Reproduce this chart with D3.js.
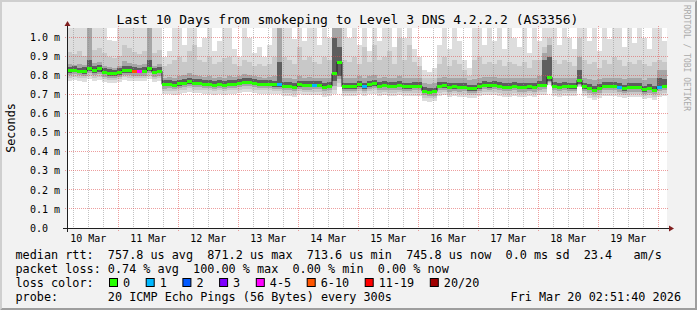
<!DOCTYPE html>
<html><head><meta charset="utf-8">
<script src="https://cdn.jsdelivr.net/npm/d3@7"></script>
<style>
html,body{margin:0;padding:0;background:#f2f2f2;}
svg{display:block;}
text{font-family:"DejaVu Sans Mono",monospace;white-space:pre;}
</style></head><body>
<svg id="c" width="697" height="310"></svg>
<script>
// ---------------- data ----------------
const title = "Last 10 Days from smokeping to Level 3 DNS 4.2.2.2 (AS3356)";
const yLabel = "Seconds";
const watermark = "RRDTOOL / TOBI OETIKER";
const yTickValues = [0.0,0.1,0.2,0.3,0.4,0.5,0.6,0.7,0.8,0.9,1.0];
const yTickLabels = ["0.0","0.1 m","0.2 m","0.3 m","0.4 m","0.5 m","0.6 m","0.7 m","0.8 m","0.9 m","1.0 m"];
const xTickLabels = ["10 Mar","11 Mar","12 Mar","13 Mar","14 Mar","15 Mar","16 Mar","17 Mar","18 Mar","19 Mar"];

// 2-hour columns, values in microseconds
const median = [
825,829,823,821,839,826,839,818,813,813,
818,829,826,823,823,823,839,818,823,754,
754,750,757,761,769,761,761,756,756,750,
756,750,756,756,761,766,766,761,756,756,
756,752,752,744,744,740,752,749,749,750,
750,740,744,811,871,742,742,742,752,742,
752,758,744,749,744,744,749,742,742,745,
745,719,714,717,744,747,738,742,738,740,
731,731,742,750,747,750,744,740,740,745,
738,738,742,738,749,750,792,744,740,744,
742,742,776,742,733,724,733,745,745,744,
738,731,738,738,738,726,733,724,740,745];
// loss class index per column (0 = no loss)
const lossClass = [
0,0,0,0,0,0,0,0,0,0, 0,0,0,5,4,0,0,0,0,0,
0,0,0,0,0,0,0,0,0,0, 0,0,0,0,0,0,0,0,0,0,
0,0,1,0,0,0,0,0,0,1, 0,0,0,0,0,0,0,0,0,1,
0,0,0,0,0,0,0,0,0,0, 0,0,0,0,0,0,0,0,0,0,
0,0,0,0,0,0,0,0,0,0, 0,0,0,0,0,0,0,0,0,0,
0,0,0,0,0,0,0,0,0,0, 1,0,0,0,0,0,0,0,1,0];
// smoke envelopes (outer -> inner)
const hi1 = [
1050,1050,1050,1050,1050,1050,1050,1050,985,980,
1050,1050,1050,1050,1050,1050,1050,1050,1050,900,
930,1050,1050,960,1050,1050,950,1000,1050,930,
980,1050,1050,940,900,1050,1000,920,950,900,
960,1050,1050,1050,1050,990,1050,980,1050,1050,
960,1050,1000,1050,1050,1050,1000,1050,960,1050,
930,1050,980,1050,1050,950,1050,1000,1050,940,
900,830,820,840,960,1050,940,1050,980,880,
840,1050,1050,960,1050,980,1050,940,1050,1000,
950,1050,920,1050,980,1050,1050,1050,960,1050,
1000,940,1050,1050,980,1050,930,1050,990,1050,
1050,950,1050,970,1050,1000,940,1050,1050,980];
const hi2 = [
925,915,930,905,1050,935,945,920,900,895,
905,960,945,925,915,930,1050,920,935,850,
860,880,900,870,930,960,880,870,900,860,
870,890,900,860,850,880,870,850,860,850,
860,900,1050,900,880,860,950,880,900,870,
860,900,880,1050,1050,880,870,900,860,950,
870,960,880,900,930,860,1000,880,960,870,
850,790,785,790,860,900,850,880,860,830,
800,880,900,860,870,860,880,850,870,860,
850,870,840,880,880,950,1000,880,860,880,
870,850,1000,880,860,870,840,880,860,900,
880,850,870,860,880,860,850,870,880,870];
const hi3 = [
860,855,862,858,1050,865,870,852,845,842,
850,875,868,860,855,860,1050,852,862,790,
795,790,800,805,815,805,800,795,800,790,
795,790,800,795,800,810,805,800,795,790,
795,800,1050,790,785,780,800,790,795,790,
790,785,790,1050,1050,790,785,790,800,790,
800,805,790,795,790,790,800,790,785,790,
790,760,755,760,790,795,785,790,785,785,
775,780,790,795,795,795,790,785,785,790,
785,785,790,785,800,920,960,790,785,790,
790,785,900,790,780,775,780,790,790,790,
785,780,785,785,785,775,785,790,830,830];
const hi4 = [
845,848,842,845,880,848,855,840,835,832,
838,850,848,845,842,845,880,838,845,775,
775,772,778,782,790,782,782,777,777,772,
777,772,777,777,782,787,787,782,777,777,
777,773,870,765,765,762,773,770,770,772,
772,762,765,1000,950,763,763,763,773,763,
773,778,765,770,765,765,770,763,763,766,
766,738,733,736,765,768,759,763,759,761,
752,752,763,771,768,771,765,761,761,766,
759,759,763,759,770,880,900,765,761,765,
763,763,830,763,754,745,754,766,766,765,
759,752,759,759,759,747,754,745,790,780];
const lo4 = [
815,818,813,810,825,815,820,806,800,800,
805,815,813,812,812,812,825,806,812,744,
744,740,747,751,758,751,751,746,746,740,
746,740,746,746,751,756,756,751,746,746,
746,742,742,734,734,730,742,739,739,740,
740,730,734,770,800,732,732,732,742,732,
742,748,734,739,734,734,739,732,732,735,
735,709,704,707,734,737,728,732,728,730,
721,721,732,740,737,740,734,730,730,735,
728,728,732,728,739,740,770,734,730,734,
732,732,755,732,723,714,723,735,735,734,
728,721,728,728,728,716,723,714,730,735];
const lo3 = [
803,807,801,798,812,803,808,795,790,790,
795,805,802,800,800,800,812,795,800,732,
733,729,735,739,746,739,739,734,734,729,
734,729,734,734,739,744,744,739,734,734,
734,730,730,722,722,718,730,727,727,728,
728,718,722,745,780,720,720,720,730,720,
730,735,722,727,722,722,727,720,720,723,
723,697,692,695,722,725,716,720,716,718,
709,709,720,728,725,728,722,718,718,723,
716,716,720,716,727,728,765,722,718,722,
720,720,750,720,711,702,711,723,723,722,
716,709,716,716,716,704,711,702,718,723];
const lo2 = [
790,794,788,785,800,790,795,783,778,778,
783,792,790,788,788,788,800,783,788,720,
721,717,723,727,733,727,727,722,722,717,
722,717,722,722,727,732,732,727,722,722,
722,718,718,710,710,706,718,715,715,716,
716,706,710,725,760,708,708,708,718,708,
718,723,710,715,710,710,715,708,708,711,
711,685,680,683,710,713,704,708,704,706,
697,697,708,716,713,716,710,706,706,711,
704,704,708,704,715,716,760,710,706,710,
708,708,745,708,699,690,699,711,711,710,
704,697,704,704,704,692,699,690,706,711];
const lo1 = [
772,776,770,768,782,772,777,766,762,762,
766,775,772,770,770,770,782,766,770,703,
704,700,706,710,716,710,710,705,705,700,
705,700,705,705,710,715,715,710,705,705,
705,701,701,693,693,689,701,698,698,699,
699,689,693,705,740,691,691,691,701,691,
701,706,693,698,693,693,698,691,691,694,
694,668,663,666,693,696,687,691,687,689,
680,680,691,699,696,699,693,689,689,694,
687,687,691,687,698,699,750,693,689,693,
691,691,740,691,682,673,682,694,694,693,
687,680,687,687,687,675,682,673,689,694];

const lossLabels = ["0","1","2","3","4-5","6-10","11-19","20/20"];
const lossColors = ["#26ff00","#00b8ff","#0059ff","#7e00ff","#ff00ff","#ff5500","#ff0000","#a00000"];
const legendRow1 = "median rtt:  757.8 us avg  871.2 us max  713.6 us min  745.8 us now  0.0 ms sd  23.4   am/s";
const legendRow2 = "packet loss: 0.74 % avg  100.00 % max  0.00 % min  0.00 % now";
const legendRow3 = "loss color:";
const legendRow4 = "probe:       20 ICMP Echo Pings (56 Bytes) every 300s";
const stamp = "Fri Mar 20 02:51:40 2026";

// ---------------- drawing ----------------
const W = 697, H = 310;
const X0 = 67, X1 = 667, Y0 = 228, Y1 = 28;
const svg = d3.select("#c");
const tStart = Date.UTC(2026, 2, 10, 3, 29);
const tEnd = Date.UTC(2026, 2, 20, 3, 29);
const STEP = 2 * 3600 * 1000;
const N = median.length;
const x = d3.scaleUtc().domain([tStart, tEnd]).range([X0, X1]);
const y = d3.scaleLinear().domain([0, 1.05]).range([Y0, Y1]).clamp(true);
const tc = i => tStart + i * STEP;
const snap = v => Math.floor(v) + 0.5;

// background & 3d border
svg.append("rect").attr("width", W).attr("height", H).attr("fill", "#f2f2f2");
svg.append("polygon").attr("points", `0,${H} 2,${H-2} 2,2 ${W-2},2 ${W},0 0,0`).attr("fill", "#cfcfcf");
svg.append("polygon").attr("points", `2,${H-2} ${W-2},${H-2} ${W-2},2 ${W},0 ${W},${H} 0,${H}`).attr("fill", "#9e9e9e");

// canvas
svg.append("rect").attr("x", X0).attr("y", Y1).attr("width", X1 - X0).attr("height", Y0 - Y1).attr("fill", "#ffffff");

// smoke
const bands = [
  [lo1, hi1, "#dddddd"],
  [lo2, hi2, "#c8c8c8"],
  [lo3, hi3, "#a6a6a6"],
  [lo4, hi4, "#5e5e5e"]
];
bands.forEach(([lo, hi, col]) => {
  svg.append("g").selectAll("rect").data(d3.range(N)).join("rect")
    .attr("x", i => x(tc(i)))
    .attr("width", i => x(tc(i + 1)) - x(tc(i)))
    .attr("y", i => y(hi[i] / 1000))
    .attr("height", i => y(lo[i] / 1000) - y(hi[i] / 1000))
    .attr("fill", col)
    .attr("shape-rendering", "crispEdges");
});

// grid
const g = svg.append("g");
const minorTimes = d3.utcHour.every(6).range(tStart, tEnd).filter(d => d.getUTCHours() !== 0);
const majorTimes = d3.utcDay.range(tStart, tEnd);
g.selectAll(".mi").data(minorTimes).join("line")
  .attr("x1", d => snap(x(d))).attr("x2", d => snap(x(d)))
  .attr("y1", Y0 + 1).attr("y2", Y1 - 1)
  .attr("stroke", "rgba(143,143,143,0.55)").attr("stroke-dasharray", "1,1");
g.selectAll(".ma").data(majorTimes).join("line")
  .attr("x1", d => snap(x(d))).attr("x2", d => snap(x(d)))
  .attr("y1", Y0 + 3).attr("y2", Y1 - 2)
  .attr("stroke", "rgba(222,79,79,0.55)").attr("stroke-dasharray", "1,1");
g.selectAll(".hy").data(yTickValues.filter(v => v > 0)).join("line")
  .attr("x1", X0 - 2).attr("x2", X1 + 2)
  .attr("y1", d => snap(y(d))).attr("y2", d => snap(y(d)))
  .attr("stroke", "rgba(222,79,79,0.55)").attr("stroke-dasharray", "1,1");

// median step line
const pts = d3.range(N).map(i => [tc(i), median[i]]).concat([[tc(N), median[N - 1]]]);
svg.append("path")
  .attr("d", d3.line().x(d => x(d[0])).y(d => y(d[1] / 1000)).curve(d3.curveStepAfter)(pts))
  .attr("fill", "none").attr("stroke", "#202020").attr("stroke-width", 1);
// loss-coloured median marks
svg.append("g").selectAll("rect").data(d3.range(N)).join("rect")
  .attr("x", i => x(tc(i)))
  .attr("width", i => x(tc(i + 1)) - x(tc(i)))
  .attr("y", i => y(median[i] / 1000) - 1.5)
  .attr("height", 3)
  .attr("fill", i => lossColors[lossClass[i]])
  .attr("shape-rendering", "crispEdges");

// axes
svg.append("line").attr("x1", X0 - 4).attr("x2", X1 + 4).attr("y1", Y0 + 0.5).attr("y2", Y0 + 0.5).attr("stroke", "#1f1f1f");
svg.append("line").attr("x1", X0 + 0.5).attr("x2", X0 + 0.5).attr("y1", Y0 + 4).attr("y2", Y1 - 4).attr("stroke", "#1f1f1f");
svg.append("polygon").attr("points", `${X1+2},${Y0-3+0.5} ${X1+2},${Y0+3+0.5} ${X1+7},${Y0+0.5}`).attr("fill", "#801f1f");
svg.append("polygon").attr("points", `${X0-3+0.5},${Y1-2} ${X0+3+0.5},${Y1-2} ${X0+0.5},${Y1-7}`).attr("fill", "#801f1f");

// tick labels
svg.append("g").selectAll("text").data(yTickValues).join("text")
  .attr("x", 30).attr("y", d => y(d) + 3.6)
  .attr("font-size", 10).attr("fill", "#000")
  .text((d, i) => yTickLabels[i]);
const noonTimes = xTickLabels.map((s, i) => Date.UTC(2026, 2, 10 + i, 12));
svg.append("g").selectAll("text").data(noonTimes).join("text")
  .attr("x", d => x(d)).attr("y", 241.5)
  .attr("text-anchor", "middle").attr("font-size", 10).attr("fill", "#000")
  .text((d, i) => xTickLabels[i]);

// title, axis label, watermark
svg.append("text").attr("x", 347.5).attr("y", 24).attr("text-anchor", "middle")
  .attr("font-size", 13).attr("fill", "#000").text(title);
svg.append("text").attr("transform", "translate(15,128) rotate(-90)").attr("text-anchor", "middle")
  .attr("font-size", 11.8).attr("fill", "#000").text(yLabel);
svg.append("text").attr("transform", "translate(684,5) rotate(90)")
  .attr("font-size", 8).attr("fill", "#aaaaaa").text(watermark);

// legend
const LX = 15.5, CW = 7.1;
const lg = svg.append("g").attr("font-size", 11.8).attr("fill", "#000");
lg.append("text").attr("x", LX).attr("y", 258.5).text(legendRow1);
lg.append("text").attr("x", LX).attr("y", 272.5).text(legendRow2);
lg.append("text").attr("x", LX).attr("y", 286.5).text(legendRow3);
lg.append("text").attr("x", LX).attr("y", 300.5).text(legendRow4);
lg.append("text").attr("x", 681).attr("y", 300.5).attr("text-anchor", "end").text(stamp);
let bx = 109;
lossLabels.forEach((lab, k) => {
  lg.append("rect").attr("x", bx + 0.5).attr("y", 278.5).attr("width", 8).attr("height", 8)
    .attr("fill", lossColors[k]).attr("stroke", "#000").attr("stroke-width", 1);
  lg.append("text").attr("x", bx + 14).attr("y", 286.5).text(lab);
  bx += 29.6 + CW * lab.length;
});
</script>
</body></html>
